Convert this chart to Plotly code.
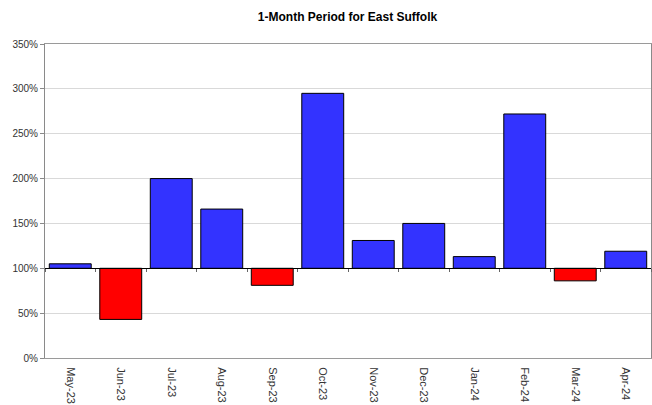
import plotly.graph_objects as go

months = ["May-23", "Jun-23", "Jul-23", "Aug-23", "Sep-23", "Oct-23",
          "Nov-23", "Dec-23", "Jan-24", "Feb-24", "Mar-24", "Apr-24"]
values = [105, 43, 200, 166, 81, 295, 131, 150, 113, 272, 86, 119]
baseline = 100
title_text = "1-Month Period for East Suffolk"

blue = "#3333FF"
red = "#FF0000"
colors = [blue if v >= baseline else red for v in values]

fig = go.Figure()
fig.add_trace(go.Bar(
    x=months,
    y=[v - baseline for v in values],
    base=baseline,
    marker=dict(color=colors, line=dict(color="#000000", width=1)),
    hoverinfo="skip",
))
# invisible trace to populate the overlay axis at 100%
fig.add_trace(go.Scatter(x=months, y=[baseline] * len(months), xaxis="x2",
                         mode="lines", line=dict(width=0), opacity=0,
                         hoverinfo="skip", showlegend=False))

ymax = 350
fig.update_layout(
    width=652, height=405,
    margin=dict(l=45, r=1, t=44, b=47, autoexpand=False),
    paper_bgcolor="white", plot_bgcolor="white",
    showlegend=False,
    bargap=0.17,
    title=dict(text="<b>" + title_text + "</b>", x=0.533, xanchor="center",
               y=0.958, yanchor="middle", automargin=False,
               font=dict(family="Liberation Sans, Arial", size=12, color="#000000")),
    font=dict(family="Liberation Sans, Arial", size=10, color="#333333"),
    xaxis=dict(
        type="category", categoryorder="array", categoryarray=months,
        range=[-0.5, len(months) - 0.5], automargin=False,
        showline=True, linecolor="#9a9a9a", linewidth=1, mirror=True,
        ticks="outside", ticklen=6, tickcolor="rgba(0,0,0,0)",
        tickangle=90, showgrid=False,
        tickfont=dict(family="Liberation Sans, Arial", size=11, color="#333333"),
    ),
    xaxis2=dict(
        type="category", categoryorder="array", categoryarray=months,
        range=[-0.5, len(months) - 0.5], automargin=False,
        overlaying="x", anchor="free", position=baseline / ymax,
        showline=True, linecolor="#000000", linewidth=1,
        tickson="boundaries", ticks="outside", ticklen=3, tickcolor="#666666",
        showticklabels=False, showgrid=False, zeroline=False,
    ),
    yaxis=dict(
        range=[0, ymax], dtick=50, ticksuffix="%", automargin=False,
        showline=True, linecolor="#8a8a8a", linewidth=1, mirror=True,
        ticks="outside", ticklen=4, tickcolor="#8a8a8a",
        showgrid=True, gridcolor="#d9d9d9", gridwidth=1, zeroline=False,
        tickfont=dict(family="Liberation Sans, Arial", size=10, color="#333333"),
    ),
)

fig.write_html("out.html", config={"displayModeBar": False, "staticPlot": True},
               post_script="document.body.style.margin='0';document.body.style.overflow='hidden';")
